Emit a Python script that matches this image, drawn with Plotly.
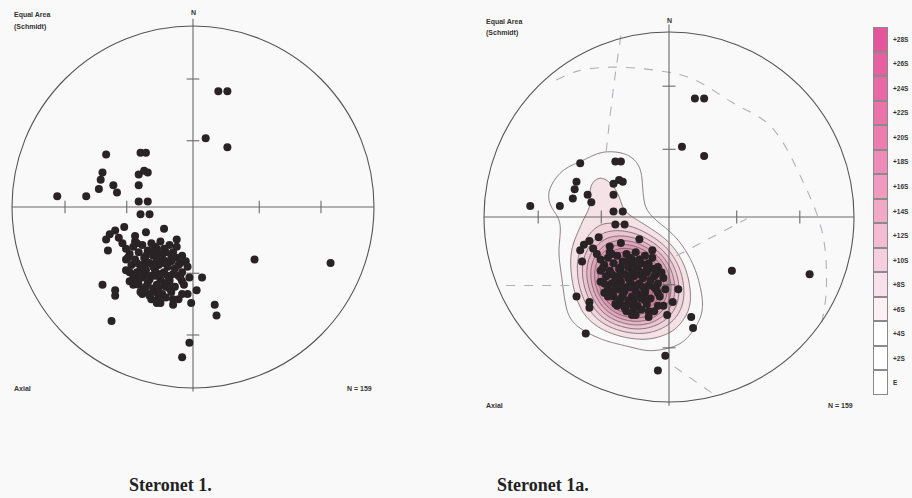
import numpy as np
import plotly.graph_objects as go

W, H = 912, 498
BG = "#f9f9f9"

# ---------------- data (projected lineations, unit-radius equal-area net) ----------------
east = [0.14, 0.19, 0.07, 0.19, -0.75, -0.59, -0.48, -0.50, -0.51, -0.52, -0.44, -0.42,
        -0.29, -0.26, -0.30, -0.27, -0.25, -0.30, -0.30, -0.25, -0.29, -0.24, -0.38, -0.43,
        -0.46, -0.48, -0.47, -0.16, -0.09, -0.26, -0.32, -0.32, -0.06, -0.03, 0.05, -0.02,
        0.02, -0.03, -0.01, -0.50, -0.43, -0.43, -0.45, 0.12, 0.13, -0.02, -0.06, 0.34, 0.76,
        -0.37, -0.37, -0.37, -0.35, -0.33, -0.28, -0.24, -0.18, -0.11, -0.08, -0.06, -0.06,
        -0.07, -0.13, -0.14,
        -0.33, -0.28, -0.23, -0.18, -0.13, -0.11, -0.35, -0.30, -0.25, -0.20, -0.15, -0.09,
        -0.32, -0.27, -0.22, -0.17, -0.12, -0.07, -0.34, -0.29, -0.24, -0.19, -0.14, -0.10,
        -0.31, -0.26, -0.21, -0.16, -0.11, -0.06, -0.33, -0.28, -0.23, -0.18, -0.13,
        -0.30, -0.25, -0.20, -0.15, -0.10, -0.27, -0.21, -0.17, -0.12, -0.23, -0.19,
        -0.26, -0.20, -0.22, -0.27, -0.18, -0.24, -0.16, -0.22, -0.29, -0.15,
        -0.31, -0.21, -0.16, -0.26, -0.19, -0.12, -0.31, -0.17, -0.08, -0.27,
        -0.21, -0.14, -0.08, -0.30, -0.26, -0.19, -0.13, -0.24, -0.15, -0.35,
        -0.36, -0.22, -0.09, -0.04, -0.05, -0.29, -0.20, -0.11, -0.39, -0.41]
north = [0.64, 0.64, 0.38, 0.33, 0.06, 0.06, 0.29, 0.19, 0.15, 0.10, 0.12, 0.08,
         0.30, 0.30, 0.18, 0.20, 0.19, 0.12, 0.03, 0.03, -0.04, -0.04, -0.11, -0.13,
         -0.15, -0.18, -0.24, -0.12, -0.18, -0.14, -0.16, -0.19, -0.27, -0.33, -0.39, -0.39,
         -0.46, -0.48, -0.53, -0.43, -0.46, -0.49, -0.63, -0.54, -0.60, -0.75, -0.83, -0.29, -0.31,
         -0.23, -0.29, -0.35, -0.41, -0.43, -0.48, -0.48, -0.53, -0.51, -0.51, -0.48, -0.41,
         -0.39, -0.41, -0.44,
         -0.22, -0.21, -0.20, -0.19, -0.21, -0.25, -0.26, -0.25, -0.24, -0.23, -0.25, -0.28,
         -0.29, -0.28, -0.27, -0.28, -0.30, -0.31, -0.32, -0.32, -0.31, -0.32, -0.33, -0.34,
         -0.36, -0.35, -0.35, -0.36, -0.37, -0.36, -0.39, -0.39, -0.38, -0.40, -0.40,
         -0.43, -0.42, -0.43, -0.44, -0.44, -0.46, -0.47, -0.48, -0.47, -0.51, -0.50,
         -0.30, -0.30, -0.33, -0.37, -0.37, -0.40, -0.42, -0.45, -0.34, -0.30,
         -0.20, -0.22, -0.23, -0.27, -0.26, -0.27, -0.31, -0.31, -0.32, -0.33,
         -0.38, -0.38, -0.38, -0.40, -0.44, -0.45, -0.45, -0.49, -0.50, -0.36,
         -0.28, -0.24, -0.22, -0.30, -0.43, -0.47, -0.53, -0.54, -0.20, -0.17]

n_label = "N = 159"
tick_plunges = [30, 60]

# contour levels (sigma) and colour-bar labels
levels = list(range(0, 30, 2))
level_labels = ["E"] + ["+%dS" % v for v in levels[1:]]

# dashed girdles on stereonet 1a (unit coordinates)
girdle_arc_e = [-0.61, -0.49, -0.31, -0.05, 0.12, 0.34, 0.55, 0.72, 0.83, 0.85, 0.82]
girdle_arc_n = [0.74, 0.79, 0.81, 0.79, 0.75, 0.62, 0.49, 0.20, -0.09, -0.40, -0.60]
girdle_v_e = [-0.26, -0.30, -0.34]
girdle_v_n = [0.98, 0.70, 0.35]
girdle_h_e = [-0.88, -0.54]
girdle_h_n = [-0.37, -0.37]
girdle_ne_e = [0.04, 0.42]
girdle_ne_n = [-0.21, -0.01]
girdle_s_e = [0.03, 0.23]
girdle_s_n = [-0.81, -0.95]

# ---------------- helpers ----------------
def xdom(p0, p1):
    return [p0 / W, p1 / W]

def ydom(p0, p1):
    return [1 - p1 / H, 1 - p0 / H]

def px(x):
    return x / W

def py(y):
    return 1 - y / H

fig = go.Figure()

nets = [
    # (xaxis, yaxis, cx, cy, R, xpix, ypix)
    ("x", "y", 193, 207, 181, (4, 382), (10, 404)),
    ("x2", "y2", 669, 217, 185, (478, 860), (20, 414)),
]

# counting-circle density for contouring (stereonet 1a)
gx = np.linspace(-1, 1, 201)
gy = np.linspace(-1, 1, 201)
GX, GY = np.meshgrid(gx, gy)
E = np.array(east)
N = np.array(north)
r0, w = 0.15, 0.035
dens = np.zeros_like(GX)
for e, n in zip(E, N):
    d = np.sqrt((GX - e) ** 2 + (GY - n) ** 2)
    dens += 1.0 / (1.0 + np.exp((d - r0) / w))
dens = dens / dens.max() * 29.0

fill_scale = [[0.0, "rgba(249,249,249,0)"], [0.04, "rgba(249,249,249,0)"],
              [0.06, "#f7ebef"], [0.2, "#efd3dc"], [0.4, "#dfa9bb"],
              [0.65, "#cc819d"], [1.0, "#b45c82"]]
fig.add_trace(go.Contour(
    x=gx, y=gy, z=dens, xaxis="x2", yaxis="y2",
    contours=dict(start=1.5, end=28, size=2, coloring="fill"),
    colorscale=fill_scale, zmin=0, zmax=28, showscale=False,
    line=dict(color="#6d5c63", width=0.8), hoverinfo="skip"))

# dashed girdles
for ge, gn in [(girdle_arc_e, girdle_arc_n), (girdle_v_e, girdle_v_n), (girdle_h_e, girdle_h_n),
               (girdle_ne_e, girdle_ne_n), (girdle_s_e, girdle_s_n)]:
    fig.add_trace(go.Scatter(x=ge, y=gn, xaxis="x2", yaxis="y2", mode="lines",
                             line=dict(color="#b0b0b8", width=1.1, dash="dash"),
                             line_shape="spline", hoverinfo="skip"))

tick_r = [np.sqrt(2) * np.sin(np.radians((90 - p) / 2)) for p in tick_plunges]
for xa, ya, cx, cy, R, xp, yp in nets:
    # crosshair
    fig.add_trace(go.Scatter(x=[-1, 1], y=[0, 0], xaxis=xa, yaxis=ya, mode="lines",
                             line=dict(color="#6a6a6a", width=1.1), hoverinfo="skip"))
    fig.add_trace(go.Scatter(x=[0, 0], y=[-1.02, 1.04], xaxis=xa, yaxis=ya, mode="lines",
                             line=dict(color="#6a6a6a", width=1.1), hoverinfo="skip"))
    tx, ty = [], []
    t = 0.035
    for r in tick_r:
        for sgn in (-1, 1):
            tx += [sgn * r, sgn * r, None]
            ty += [-t, t, None]
            tx += [-t, t, None]
            ty += [sgn * r, sgn * r, None]
    fig.add_trace(go.Scatter(x=tx, y=ty, xaxis=xa, yaxis=ya, mode="lines",
                             line=dict(color="#6a6a6a", width=1.1), hoverinfo="skip"))
    # points
    fig.add_trace(go.Scatter(x=east, y=north, xaxis=xa, yaxis=ya, mode="markers",
                             marker=dict(size=8, color="#2a2325", line=dict(width=0)),
                             hoverinfo="skip"))
    # primitive circle
    fig.add_shape(type="circle", xref=xa, yref=ya, x0=-1, y0=-1, x1=1, y1=1,
                  line=dict(color="#555555", width=1.1))

# colour bar as heatmap
bar_scale = [[0.0, "#ffffff"], [0.15, "#ffffff"], [0.3, "#f8dde8"], [0.5, "#f2a9c8"],
             [0.7, "#ec80b0"], [1.0, "#e6559c"]]
fig.add_trace(go.Heatmap(x=[0], y=list(range(len(levels))), z=[[v] for v in levels],
                         xaxis="x3", yaxis="y3", colorscale=bar_scale, zmin=0, zmax=28,
                         showscale=False, xgap=2, ygap=2, hoverinfo="skip"))
fig.add_shape(type="rect", xref="x3 domain", yref="y3 domain", x0=0, x1=1, y0=0, y1=1,
              fillcolor="#8a8a8a", line=dict(width=0), layer="below")

ax_common = dict(visible=False, fixedrange=True, showgrid=False, zeroline=False)
layout = dict(width=W, height=H, margin=dict(l=0, r=0, t=0, b=0),
              paper_bgcolor=BG, plot_bgcolor=BG, showlegend=False,
              font=dict(family="Liberation Sans, Arial", color="#333"))
for i, (xa, ya, cx, cy, R, xp, yp) in enumerate(nets):
    suf = "" if i == 0 else str(i + 1)
    layout["xaxis" + suf] = dict(ax_common, domain=xdom(*xp),
                                 range=[(xp[0] - cx) / R, (xp[1] - cx) / R])
    layout["yaxis" + suf] = dict(ax_common, domain=ydom(*yp),
                                 range=[(cy - yp[1]) / R, (cy - yp[0]) / R])
layout["xaxis3"] = dict(ax_common, domain=xdom(873, 888), range=[-0.5, 0.5])
layout["yaxis3"] = dict(ax_common, domain=ydom(27, 395), range=[-0.5, len(levels) - 0.5])
fig.update_layout(**layout)

small = dict(size=7, color="#333", family="Liberation Sans, Arial")
ann = []
def txt(t, x, y, xa="left", f=small):
    ann.append(dict(text=t, x=px(x), y=py(y), xref="paper", yref="paper", xanchor=xa,
                    yanchor="middle", showarrow=False, font=f))

txt("<b>Equal Area</b>", 12, 15)
txt("<b>(Schmidt)</b>", 12, 27)
txt("<b>N</b>", 193, 13, "center")
txt("<b>Axial</b>", 12, 388)
txt("<b>" + n_label + "</b>", 374, 388, "right")
txt("<b>Equal Area</b>", 484, 22)
txt("<b>(Schmidt)</b>", 484, 33)
txt("<b>N</b>", 669, 20, "center")
txt("<b>Axial</b>", 484, 405)
txt("<b>" + n_label + "</b>", 855, 405, "right")
big = dict(size=18, color="#222", family="Liberation Serif, Times New Roman")
txt("<b>Steronet 1.</b>", 170, 485, "center", big)
txt("<b>Steronet 1a.</b>", 543, 485, "center", big)

# colour-bar labels through the bar's own axis
for i, lab in enumerate(level_labels):
    ann.append(dict(text="<b>" + lab + "</b>", x=1, y=i, xref="x3 domain", yref="y3",
                    xanchor="left", yanchor="middle", xshift=3, showarrow=False,
                    font=dict(size=6.5, color="#333", family="Liberation Sans, Arial")))
fig.update_layout(annotations=ann)

fig.write_html("out.html", config={"displayModeBar": False},
               post_script="document.body.style.margin='0';document.body.style.overflow='hidden';")
